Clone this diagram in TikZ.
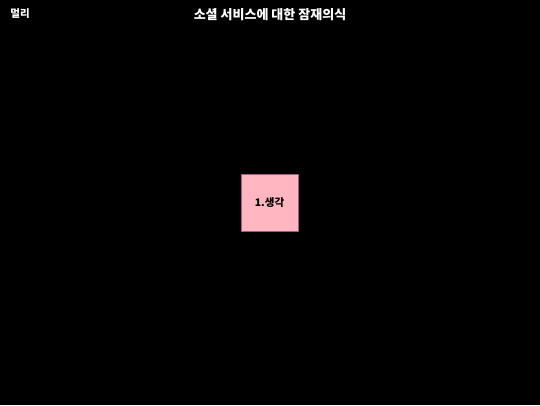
\documentclass[tikz,border=0pt]{standalone}
\usepackage{fontspec}
\usepackage{tikz}
\newfontfamily\kofont{Noto Sans CJK KR}
\definecolor{boxpink}{RGB}{255,182,193}
\definecolor{boxedge}{RGB}{160,90,130}

\begin{document}
\begin{tikzpicture}[x=1pt, y=-1pt]
                \fill[black] (0, 0) rectangle (540, 405);
                \useasboundingbox (0, 0) rectangle (540, 405);
                \node (corner) at (20, 14) [text=white, font=\kofont\bfseries\fontsize{10.5}{12}\selectfont] {멀리};
                \node (title) at (270, 15) [text=white, font=\kofont\bfseries\fontsize{13}{15}\selectfont] {소셜 서비스에 대한 잠재의식};
                \node (think) at (269.5, 203) [draw=boxedge, fill=boxpink, minimum width=57pt, minimum height=57pt, inner sep=0pt, font=\kofont\bfseries\fontsize{10.5}{12}\selectfont] {1.생각};
            \end{tikzpicture}
\end{document}
